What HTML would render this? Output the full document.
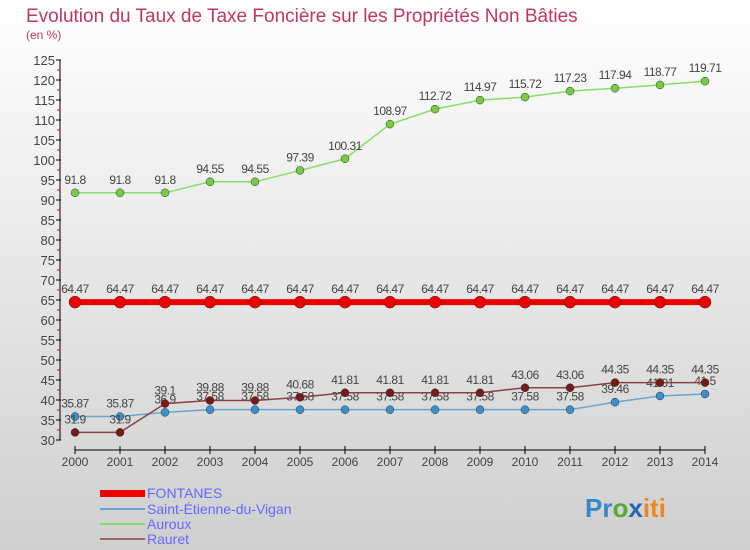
<!DOCTYPE html>
<html><head><meta charset="utf-8"><style>
body{margin:0;width:750px;height:550px;overflow:hidden;font-family:"Liberation Sans",sans-serif}
svg{display:block}
</style></head><body>
<svg id="chart" width="750" height="550">
<defs><linearGradient id="bg" x1="0" y1="0" x2="0" y2="1"><stop offset="0" stop-color="#ffffff"/><stop offset="1" stop-color="#cfcfcf"/></linearGradient></defs>
<rect width="750" height="550" fill="url(#bg)"/>
<text x="26" y="22" font-size="19" fill="#c0366a">Evolution du Taux de Taxe Foncière sur les Propriétés Non Bâties</text>
<text x="26" y="39" font-size="12" fill="#c0366a">(en %)</text>
<g id="axes"></g>
<g id="series"></g>
<g>
<rect x="100" y="490" width="45" height="7" fill="#ee0000"/>
<text x="147" y="498" font-size="14" fill="#6666ff">FONTANES</text>
<rect x="100" y="508" width="45" height="2" fill="#6aa6cc"/>
<text x="147" y="514" font-size="14" fill="#6666ff">Saint-Étienne-du-Vigan</text>
<rect x="100" y="523" width="45" height="2" fill="#88dd66"/>
<text x="147" y="529" font-size="14" fill="#6666ff">Auroux</text>
<rect x="100" y="538" width="45" height="2" fill="#996666"/>
<text x="147" y="544" font-size="14" fill="#6666ff">Rauret</text>
</g>
<text x="585" y="517" font-size="26" font-weight="bold"><tspan fill="#3388cc">Pr</tspan><tspan fill="#55aa33">o</tspan><tspan fill="#2266bb">x</tspan><tspan fill="#ee8822">iti</tspan></text>
</svg>
<script>
const years=[2000,2001,2002,2003,2004,2005,2006,2007,2008,2009,2010,2011,2012,2013,2014];
const fontanes=[64.47,64.47,64.47,64.47,64.47,64.47,64.47,64.47,64.47,64.47,64.47,64.47,64.47,64.47,64.47];
const saintEtienne=[35.87,35.87,36.9,37.58,37.58,37.58,37.58,37.58,37.58,37.58,37.58,37.58,39.46,41.01,41.5];
const auroux=[91.8,91.8,91.8,94.55,94.55,97.39,100.31,108.97,112.72,114.97,115.72,117.23,117.94,118.77,119.71];
const rauret=[31.9,31.9,39.1,39.88,39.88,40.68,41.81,41.81,41.81,41.81,43.06,43.06,44.35,44.35,44.35];
const yTicks=[30,35,40,45,50,55,60,65,70,75,80,85,90,95,100,105,110,115,120,125];
const NS="http://www.w3.org/2000/svg";
const X=i=>75+i*45, Y=v=>440-(v-30)*4;
function mk(t,a,p){const e=document.createElementNS(NS,t);for(const k in a)e.setAttribute(k,a[k]);p.appendChild(e);return e;}
const ax=document.getElementById('axes');
let yl=mk('line',{x1:60,y1:Y(125),x2:60,y2:Y(30),stroke:'#000','stroke-width':1},ax);


yTicks.forEach(v=>{
 mk('line',{x1:56,x2:61,y1:Y(v),y2:Y(v),stroke:'#000'},ax);
 if(v<125)mk('line',{x1:57,x2:60,y1:Y(v+2.5),y2:Y(v+2.5),stroke:'#e00'},ax);
 const t=mk('text',{x:55,y:Y(v)+5,'font-size':13,fill:'#444','text-anchor':'end'},ax);t.textContent=v;
 
 
});
let xl=mk('line',{x1:X(0),x2:X(14),y1:450,y2:450,stroke:'#000'},ax);


years.forEach((y,i)=>{
 mk('line',{x1:X(i),x2:X(i),y1:446,y2:454,stroke:'#000'},ax);
 const t=mk('text',{x:X(i),y:466,'font-size':12,fill:'#444','text-anchor':'middle'},ax);t.textContent=y;
 
 
});
const sg=document.getElementById('series');
function series(vals,color,dot,w,r,name){
 const g=mk('g',{},sg);
 
 
 mk('polyline',{points:vals.map((v,i)=>X(i)+','+Y(v)).join(' '),fill:'none',stroke:color,'stroke-width':w},g);
 vals.forEach((v,i)=>{
  const c=mk('circle',{cx:X(i),cy:Y(v),r:r,fill:dot,stroke:'#333','stroke-width':0.5},g);
  
  
  const t=mk('text',{x:X(i),y:Y(v)-9,'font-size':12,fill:'#444','text-anchor':'middle','letter-spacing':'-0.5'},g);t.textContent=v;
  
  
 });
}
series(auroux,'#88dd66','#77cc44',1.5,4,'auroux-series');
series(fontanes,'#ee0000','#ee0000',6,6,'fontanes-series');
series(saintEtienne,'#6aa6cc','#3a8fcc',1.5,4,'saint-etienne-series');
series(rauret,'#884444','#771a1a',1.5,4,'rauret-series');
</script>
</body></html>
